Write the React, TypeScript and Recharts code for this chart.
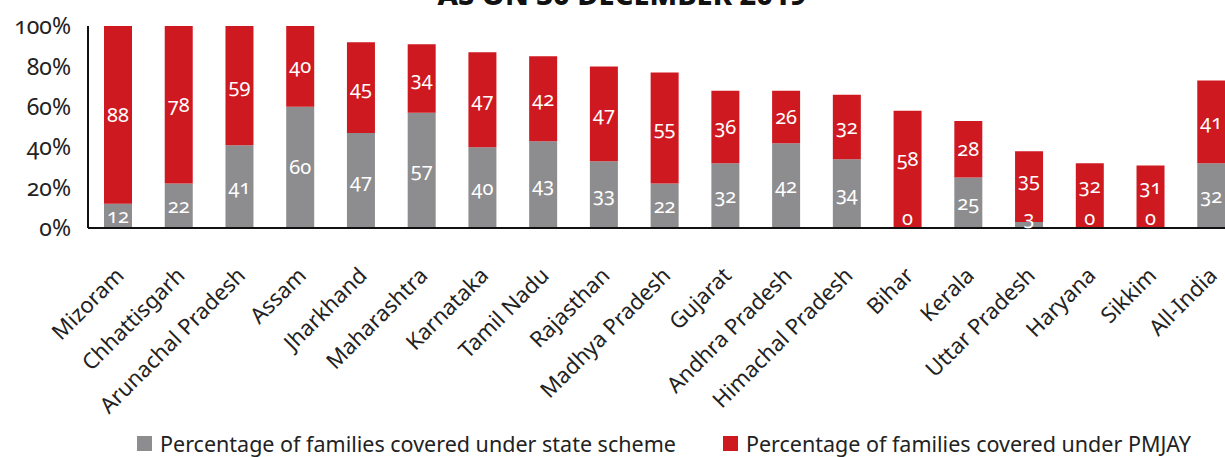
import { BarChart, Bar, XAxis, YAxis, LabelList, Legend } from 'recharts';

const states = [
  'Mizoram', 'Chhattisgarh', 'Arunachal Pradesh', 'Assam', 'Jharkhand', 'Maharashtra',
  'Karnataka', 'Tamil Nadu', 'Rajasthan', 'Madhya Pradesh', 'Gujarat', 'Andhra Pradesh',
  'Himachal Pradesh', 'Bihar', 'Kerala', 'Uttar Pradesh', 'Haryana', 'Sikkim', 'All-India',
];
const stateScheme = [12, 22, 41, 60, 47, 57, 40, 43, 33, 22, 32, 42, 34, 0, 25, 3, 0, 0, 32];
const pmjay = [88, 78, 59, 40, 45, 34, 47, 42, 47, 55, 36, 26, 32, 58, 28, 35, 32, 31, 41];
const yTicks = [0, 20, 40, 60, 80, 100];
const seriesNames = [
  'Percentage of families covered under state scheme',
  'Percentage of families covered under PMJAY',
];

const GRAY = '#8D8D8F';
const RED = '#CF1920';
const FONT = '"Noto Sans", "Open Sans", sans-serif';

const data = states.map((name, i) => ({ name, state: stateScheme[i], pmjay: pmjay[i] }));

const labelText = (x: number, cy: number, value: any) => (
  <text x={x} y={cy} dy="0.35em" textAnchor="middle" fill="#fff"
    fontSize={20} fontFamily={FONT} style={{ fontVariantNumeric: 'oldstyle-nums' }}>
    {value}
  </text>
);

const grayHeight = (height: number, index: number) => {
  const p = pmjay[index];
  return p ? (stateScheme[index] * height) / p : 0;
};

// red segment label; when the gray segment is too thin, its label sits at the base, so keep clear of it
const RedLabel = (props: any) => {
  const { x, y, width, height, value, index } = props;
  const gh = grayHeight(height, index);
  const bottom = y + height;
  const cy = gh < 20 ? (y + bottom + gh - 20) / 2 : y + height / 2;
  return labelText(x + width / 2, cy, value);
};

// gray segment label, drawn off the red bar so zero-height segments still get their "0"
const GrayLabel = (props: any) => {
  const { x, y, width, height, index } = props;
  const gh = grayHeight(height, index);
  const top = y + height;
  const bottom = top + gh;
  const cy = Math.min(top + gh / 2, bottom - 10);
  return labelText(x + width / 2, cy, stateScheme[index]);
};

const XTick = (props: any) => {
  const { x, y, payload } = props;
  return (
    <g transform={`translate(${x - 4},${y + 30})`}>
      <text textAnchor="end" transform="rotate(-45)" fontSize={22} fontFamily={FONT} fill="#222" dy="0.7em">
        {payload.value}
      </text>
    </g>
  );
};

const LegendContent = (props: any) => {
  const { payload = [] } = props;
  const items = [...payload].sort((a: any, b: any) => seriesNames.indexOf(a.value) - seriesNames.indexOf(b.value));
  return (
    <div style={{ display: 'flex', gap: 47, fontFamily: FONT, fontSize: 21.5, color: '#222', whiteSpace: 'nowrap' }}>
      {items.map((p: any) => (
        <div key={p.value} style={{ display: 'flex', alignItems: 'center' }}>
          <span style={{ display: 'inline-block', width: 15, height: 15, background: p.color, marginRight: 8 }} />
          <span>{p.value}</span>
        </div>
      ))}
    </div>
  );
};

export default function App() {
  return (
    <div style={{ position: 'fixed', left: 0, top: 0, width: 1225, height: 457, overflow: 'hidden', background: '#fff' }}>
      <svg width={1225} height={20} style={{ position: 'absolute', left: 0, top: 0 }}>
        <text x={622} y={5} textAnchor="middle" fontFamily={FONT} fontWeight={800} fontSize={29} fill="#111">
          AS ON 30 DECEMBER 2019
        </text>
      </svg>
      <BarChart width={1242} height={457} data={data} margin={{ top: 26, right: 0, bottom: 0, left: 0 }} barSize={28}>
        <YAxis domain={[0, 100]} ticks={yTicks} width={88} tickLine={false} axisLine={{ stroke: '#111', strokeWidth: 2 }}
          tickFormatter={(v) => `${v}%`} tick={{ fontSize: 23, fontFamily: FONT, fill: '#222', dx: -9 }}
          style={{ fontVariantNumeric: 'oldstyle-nums' }} />
        <XAxis dataKey="name" interval={0} height={200} tickLine={false} axisLine={{ stroke: '#111', strokeWidth: 2 }}
          tick={<XTick />} />
        <Legend verticalAlign="bottom" content={<LegendContent />}
          wrapperStyle={{ position: 'absolute', left: 137, top: 429, width: 'auto' }} />
        <Bar dataKey="state" name={seriesNames[0]} stackId="a" fill={GRAY} isAnimationActive={false} />
        <Bar dataKey="pmjay" name={seriesNames[1]} stackId="a" fill={RED} isAnimationActive={false}>
          <LabelList dataKey="pmjay" content={<RedLabel />} />
          <LabelList dataKey="state" content={<GrayLabel />} />
        </Bar>
      </BarChart>
    </div>
  );
}
